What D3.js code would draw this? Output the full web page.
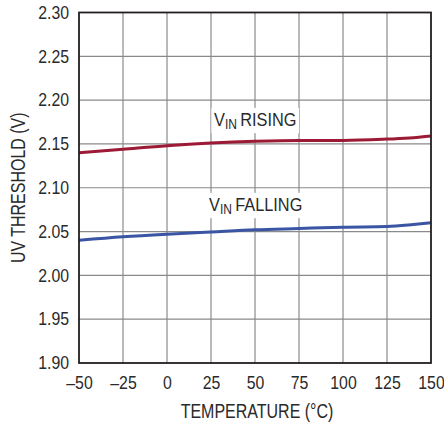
<!DOCTYPE html>
<html>
<head>
<meta charset="utf-8">
<script src="https://cdn.jsdelivr.net/npm/d3@7"></script>
<style>
  html, body { margin: 0; padding: 0; background: #fff; }
  svg text { font-family: "Liberation Sans", Arial, sans-serif; fill: #2a2a2a; }
</style>
</head>
<body>
<svg id="chart" width="444" height="423"></svg>
<script>
// Temperature points (°C)
const temperatures = [-50, -25, 0, 25, 50, 75, 100, 125, 140, 150];
// UV threshold, input rising (V)
const risingValues = [2.140, 2.144, 2.148, 2.151, 2.153, 2.154, 2.154, 2.1555, 2.157, 2.159];
// UV threshold, input falling (V)
const fallingValues = [2.040, 2.044, 2.047, 2.0495, 2.052, 2.0535, 2.055, 2.0557, 2.058, 2.060];
// Axis ticks
const xTicks = [-50, -25, 0, 25, 50, 75, 100, 125, 150];
const yTicks = [1.90, 1.95, 2.00, 2.05, 2.10, 2.15, 2.20, 2.25, 2.30];

const margin = { left: 79, top: 12.5, right: 13, bottom: 60 };
const width = 444, height = 423;
const svg = d3.select("#chart");

// Horizontal squeeze giving the narrow typeface look
const tickSquash = 0.88, titleSquash = 0.82, labelSquash = 0.86;

const x = d3.scaleLinear().domain([-50, 150]).range([margin.left, width - margin.right]);
const y = d3.scaleLinear().domain([1.90, 2.30]).range([height - margin.bottom, margin.top]);

// Grid
const grid = svg.append("g").attr("stroke", "#8a8a8a").attr("stroke-width", 1.2);
grid.selectAll("line.v").data(xTicks.slice(1, -1)).join("line")
  .attr("x1", d => x(d)).attr("x2", d => x(d))
  .attr("y1", y(1.90)).attr("y2", y(2.30));
grid.selectAll("line.h").data(yTicks.slice(1, -1)).join("line")
  .attr("x1", x(-50)).attr("x2", x(150))
  .attr("y1", d => y(d)).attr("y2", d => y(d));

// Curve labels with a white backing that breaks the grid
function curveLabel(tx, ty, word) {
  const g = svg.append("g").attr("transform", `translate(${tx},${ty}) scale(${labelSquash},1)`);
  const t = g.append("text").attr("x", 0).attr("y", 0).attr("font-size", 19);
  t.append("tspan").text("V");
  t.append("tspan").attr("font-size", 14).attr("dy", 3).text("IN");
  t.append("tspan").attr("dy", -3).text("\u2009" + word);
  const bb = t.node().getBBox();
  g.insert("rect", "text")
    .attr("x", bb.x - 3).attr("y", bb.y - 1)
    .attr("width", bb.width + 6).attr("height", bb.height + 2)
    .attr("fill", "#fff");
}
curveLabel(214, 126, "RISING");
curveLabel(209, 211, "FALLING");

// Curves
const line = d3.line()
  .x((d, i) => x(temperatures[i]))
  .y(d => y(d))
  .curve(d3.curveMonotoneX);
svg.append("path").datum(risingValues).attr("d", line)
  .attr("fill", "none").attr("stroke", "#9c1a35").attr("stroke-width", 3);
svg.append("path").datum(fallingValues).attr("d", line)
  .attr("fill", "none").attr("stroke", "#3a55a4").attr("stroke-width", 3);

// Frame
svg.append("rect")
  .attr("x", x(-50)).attr("y", y(2.30))
  .attr("width", x(150) - x(-50)).attr("height", y(1.90) - y(2.30))
  .attr("fill", "none").attr("stroke", "#231f20").attr("stroke-width", 1.8);

// Tick labels
const xAxis = d3.axisBottom(x).tickValues(xTicks).tickSize(0).tickPadding(13)
  .tickFormat(d => d < 0 ? "\u2013" + Math.abs(d) : String(d));
svg.append("g").attr("transform", `translate(0,${y(1.90)})`).call(xAxis)
  .call(g => g.select(".domain").remove())
  .selectAll("text").attr("font-size", 18).attr("fill", "#2a2a2a")
  .attr("transform", `scale(${tickSquash},1)`);

const yPad = 10;
const yAxis = d3.axisLeft(y).tickValues(yTicks).tickSize(0).tickPadding(yPad)
  .tickFormat(d3.format(".2f"));
svg.append("g").attr("transform", `translate(${x(-50)},0)`).call(yAxis)
  .call(g => g.select(".domain").remove())
  .selectAll("text").attr("font-size", 18).attr("fill", "#2a2a2a")
  .attr("x", -yPad / tickSquash)
  .attr("transform", `scale(${tickSquash},1)`);

// Axis titles
svg.append("text")
  .attr("transform", `translate(${(x(-50) + x(150)) / 2 + 2},418) scale(${titleSquash},1)`)
  .attr("text-anchor", "middle").attr("font-size", 19.5).text("TEMPERATURE (°C)");
svg.append("text")
  .attr("transform", `translate(25,${(y(1.90) + y(2.30)) / 2}) rotate(-90) scale(${titleSquash},1)`)
  .attr("text-anchor", "middle").attr("font-size", 19.5).text("UV THRESHOLD (V)");
</script>
</body>
</html>
